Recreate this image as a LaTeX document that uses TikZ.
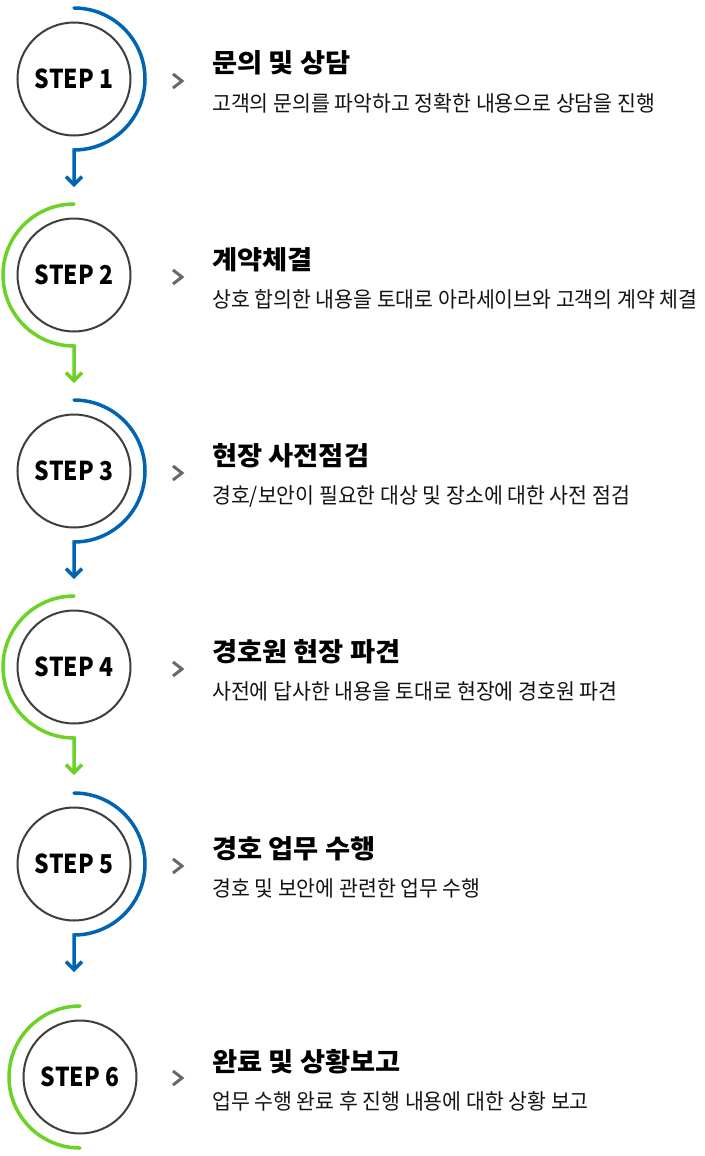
\documentclass[tikz,border=0pt]{standalone}
\usepackage{fontspec}
\usepackage{graphicx}
\setmainfont{Noto Sans CJK KR}
\usetikzlibrary{arrows.meta,calc}
\definecolor{stepblue}{RGB}{0,100,180}
\definecolor{stepgreen}{RGB}{108,210,38}
\definecolor{ringgray}{RGB}{62,62,62}
\definecolor{chevgray}{RGB}{105,105,105}
\definecolor{desctext}{RGB}{20,20,20}
\newcommand{\steplbl}[1]{\scalebox{0.88}[1]{#1}}
\newcommand{\ttlbl}[1]{\scalebox{1.05}[1]{#1}}
\newcommand{\dslbl}[1]{\scalebox{0.95}[1]{#1}}
\tikzset{
  ring/.style={circle, draw=ringgray, line width=2pt, minimum size=113pt, inner sep=0pt,
    font=\fontsize{26}{26}\selectfont\bfseries, text=black},
  bluearc/.style={draw=stepblue, line width=3.5pt, line cap=round},
  greenarc/.style={draw=stepgreen, line width=3.5pt, line cap=round},
  flowarrow/.style={-{Straight Barb[length=8pt,width=16pt]}},
  chev/.style={draw=chevgray, line width=3pt},
  titletext/.style={anchor=base west, inner sep=0pt, font=\fontsize{26}{26}\selectfont\bfseries, text=black},
  desc/.style={anchor=base west, inner sep=0pt, font=\fontsize{21.6}{21.6}\selectfont, text=desctext}
}
\begin{document}
\begin{tikzpicture}[x=1pt,y=-1pt]
\useasboundingbox (0,0) rectangle (704,1156);
\fill[white] (0,0) rectangle (704,1156);

% step circles
\node[ring] (s1) at (74,79) {\steplbl{STEP 1}};
\node[ring] (s2) at (74,275) {\steplbl{STEP 2}};
\node[ring] (s3) at (74,471) {\steplbl{STEP 3}};
\node[ring] (s4) at (74,667) {\steplbl{STEP 4}};
\node[ring] (s5) at (74,864) {\steplbl{STEP 5}};
\node[ring] (s6) at (80,1077) {\steplbl{STEP 6}};

% arrow end points
\coordinate (a1) at (74,187);
\coordinate (a2) at (74,383);
\coordinate (a3) at (74,579);
\coordinate (a4) at (74,775);
\coordinate (a5) at (74,972);

% arcs with arrows
\draw[bluearc, flowarrow] ($(s1.center)+(0,-71)$) arc[start angle=90, end angle=-90, radius=71pt] -- (a1);
\draw[greenarc, flowarrow] ($(s2.center)+(0,-71)$) arc[start angle=90, end angle=270, radius=71pt] -- (a2);
\draw[bluearc, flowarrow] ($(s3.center)+(0,-71)$) arc[start angle=90, end angle=-90, radius=71pt] -- (a3);
\draw[greenarc, flowarrow] ($(s4.center)+(0,-71)$) arc[start angle=90, end angle=270, radius=71pt] -- (a4);
\draw[bluearc, flowarrow] ($(s5.center)+(0,-71)$) arc[start angle=90, end angle=-90, radius=71pt] -- (a5);
\draw[greenarc] ($(s6.center)+(0,-71)$) arc[start angle=90, end angle=270, radius=71pt];

% chevrons
\foreach \cy in {80,276,472,668,865,1077}{
  \draw[chev] (173,\cy-6) -- (182,\cy+1) -- (173,\cy+8);
}

% texts
\node[titletext] (t1) at (212,73) {\ttlbl{문의 및 상담}};
\node[desc] (d1) at (212,111) {\dslbl{고객의 문의를 파악하고 정확한 내용으로 상담을 진행}};
\node[titletext] (t2) at (212,269) {\ttlbl{계약체결}};
\node[desc] (d2) at (212,307) {\dslbl{상호 합의한 내용을 토대로 아라세이브와 고객의 계약 체결}};
\node[titletext] (t3) at (212,465) {\ttlbl{현장 사전점검}};
\node[desc] (d3) at (212,503) {\dslbl{경호/보안이 필요한 대상 및 장소에 대한 사전 점검}};
\node[titletext] (t4) at (212,661) {\ttlbl{경호원 현장 파견}};
\node[desc] (d4) at (212,699) {\dslbl{사전에 답사한 내용을 토대로 현장에 경호원 파견}};
\node[titletext] (t5) at (212,858) {\ttlbl{경호 업무 수행}};
\node[desc] (d5) at (212,896) {\dslbl{경호 및 보안에 관련한 업무 수행}};
\node[titletext] (t6) at (212,1071) {\ttlbl{완료 및 상황보고}};
\node[desc] (d6) at (212,1109) {\dslbl{업무 수행 완료 후 진행 내용에 대한 상황 보고}};
\end{tikzpicture}
\end{document}
